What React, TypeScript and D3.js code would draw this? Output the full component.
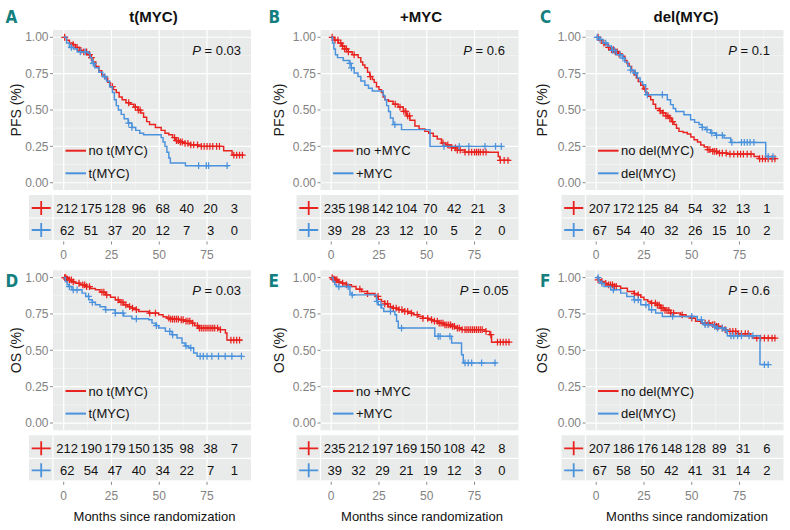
import React from "react";
import * as d3 from "d3";

type Step = [number, number];

// ---------- DATA ----------
const panelLetters = ["A", "B", "C", "D", "E", "F"];
const panelTitles = ["t(MYC)", "+MYC", "del(MYC)"];
const yTitles = ["PFS (%)", "OS (%)"];
const groupLabels = [
  ["no t(MYC)", "t(MYC)"],
  ["no +MYC", "+MYC"],
  ["no del(MYC)", "del(MYC)"],
];
const pValues = ["0.03", "0.6", "0.1", "0.03", "0.05", "0.6"];
const xTicks = [0, 25, 50, 75];
const yTicks = [0, 0.25, 0.5, 0.75, 1];
const yTickLabels = ["0.00", "0.25", "0.50", "0.75", "1.00"];
const tableTimes = [0, 12.5, 25, 37.5, 50, 62.5, 75, 87.5];
const xTitle = "Months since randomization";

// Panel A: PFS t(MYC)
const aNoSteps: Step[] = [[0,1],[1.5,0.98],[3,0.96],[4.6,0.95],[6.1,0.93],[8.2,0.91],[10.2,0.9],[12.2,0.88],[14.3,0.86],[15.3,0.83],[16.8,0.8],[18.4,0.77],[19.9,0.74],[21.4,0.72],[23,0.69],[24.5,0.66],[26,0.64],[27.5,0.62],[29,0.59],[30.6,0.57],[32.6,0.55],[34.7,0.54],[36.7,0.52],[38.8,0.5],[40.3,0.48],[41.8,0.45],[43.4,0.42],[44.9,0.4],[48,0.38],[51,0.36],[53,0.34],[55,0.33],[57,0.31],[58.6,0.29],[60.2,0.28],[63.2,0.27],[66.3,0.26],[70.6,0.25],[83.7,0.22],[88.1,0.19]];
const aNoEnd = 94.2;
const aNoCens = [0.5,5,7,9,10.5,12,13.5,14.5,25.5,34,37.5,39,40,58,59,60,61,62,63.5,65,66.5,68,70,72,73.5,75,76.5,78,80,81.5,89,90.5,92,93.5];
const aYesSteps: Step[] = [[0,1],[1.5,0.96],[3,0.93],[5.1,0.92],[7.1,0.9],[12.7,0.89],[13.8,0.86],[14.8,0.82],[16.3,0.79],[18.4,0.76],[20.4,0.73],[22.4,0.7],[24,0.66],[25.5,0.62],[26.5,0.57],[27.5,0.53],[28.6,0.5],[30.1,0.47],[31.6,0.44],[33.7,0.41],[35.7,0.38],[37.7,0.36],[39.8,0.34],[41.8,0.33],[51,0.31],[52,0.28],[53,0.25],[54,0.21],[55,0.17],[55.8,0.135],[63.7,0.117]];
const aYesEnd = 86.4;
const aYesCens = [4,8.7,11.3,15.5,21.5,34,35.7,70.6,74.6,75.8,85.5];
const aRiskNo = [212, 175, 128, 96, 68, 40, 20, 3];
const aRiskYes = [62, 51, 37, 20, 12, 7, 3, 0];

// Panel B: PFS +MYC
const bNoSteps: Step[] = [[0,1],[1.5,0.98],[3.7,0.96],[5.5,0.94],[7,0.92],[8.9,0.9],[11,0.88],[14.1,0.86],[15.5,0.83],[16.5,0.81],[17.6,0.79],[19,0.76],[20.2,0.73],[21.5,0.71],[22.5,0.69],[23.7,0.66],[25,0.64],[26.3,0.62],[27.2,0.59],[28.1,0.57],[30,0.56],[32.4,0.54],[35,0.52],[37.7,0.49],[39.5,0.46],[41.2,0.43],[43.8,0.39],[46,0.37],[49,0.353],[51,0.34],[53.4,0.32],[55.5,0.3],[57.7,0.273],[60,0.26],[63,0.24],[66,0.225],[69.9,0.21],[87.4,0.18],[88.3,0.154]];
const bNoEnd = 93.5;
const bNoCens = [0.5,2,3.5,5,6,7,8,9,12,20.5,33.5,36,38,39,40,41,58.5,61,63,65,66,67.5,70,72,73.5,75,76,77,78,79.5,81,88.5,90.5,92.5];
const bYesSteps: Step[] = [[0,1],[0.7,0.96],[1.4,0.92],[2.2,0.88],[3.3,0.86],[6.3,0.84],[9.5,0.82],[10.5,0.79],[12,0.755],[14,0.73],[15.5,0.7],[17.6,0.67],[19.5,0.65],[21.5,0.63],[27.2,0.6],[28.1,0.57],[29,0.53],[30,0.49],[31,0.445],[32.4,0.4],[36.8,0.365],[51.7,0.25]];
const bYesEnd = 89.1;
const bYesCens = [9.8,10.6,33.3,59,67,72,80.5,86,89];
const bRiskNo = [235, 198, 142, 104, 70, 42, 21, 3];
const bRiskYes = [39, 28, 23, 12, 10, 5, 2, 0];

// Panel C: PFS del(MYC)
const cNoSteps: Step[] = [[0,1],[1.5,0.98],[3,0.96],[4.1,0.95],[6,0.93],[7.5,0.915],[9.3,0.9],[11.5,0.885],[13.7,0.87],[15,0.84],[16.1,0.82],[17.2,0.8],[18.5,0.77],[19.8,0.74],[21,0.72],[22,0.695],[23.3,0.67],[24.6,0.645],[25.9,0.617],[27.2,0.595],[28.5,0.57],[29.8,0.54],[31.1,0.51],[33,0.495],[34.6,0.48],[36.3,0.46],[38.1,0.445],[39.4,0.42],[40.7,0.4],[42,0.375],[43.3,0.353],[45.5,0.345],[47.7,0.335],[49.5,0.315],[51.2,0.296],[53,0.28],[54.7,0.26],[56.5,0.245],[58.2,0.227],[61,0.215],[63.4,0.204],[68.6,0.197],[82.6,0.18],[85.2,0.165]];
const cNoEnd = 93.9;
const cNoCens = [1,4,6.5,8,9,10,11,12,25.5,33.5,35,36.5,37.5,38.5,40,58.5,59.5,61,62,63,64.5,66,68,70,72,74,75.5,77,79,81,85.5,87,88.5,90,92,93.5];
const cYesSteps: Step[] = [[0,1],[1.7,0.985],[3.5,0.96],[6,0.94],[8,0.91],[10.5,0.88],[13.7,0.857],[15,0.83],[16.5,0.8],[18,0.775],[19.5,0.755],[21.5,0.72],[23,0.695],[24.3,0.674],[25.9,0.605],[37.2,0.571],[38.9,0.537],[40.3,0.51],[41.6,0.49],[45.9,0.468],[49.4,0.433],[51.5,0.415],[53.8,0.4],[55.5,0.38],[57.3,0.365],[59.9,0.342],[62.5,0.326],[66.9,0.307],[70.4,0.277],[88.7,0.18]];
const cYesEnd = 93;
const cYesCens = [0.5,2,5,8.5,9.5,12.5,14,18,20.5,26.8,34.6,55.5,58,60.5,63,66,71,76,77.5,79,80.5,82.5,90,92.5];
const cRiskNo = [207, 172, 125, 84, 54, 32, 13, 1];
const cRiskYes = [67, 54, 40, 32, 26, 15, 10, 2];

// Panel D: OS t(MYC)
const dNoSteps: Step[] = [[0,1],[1.3,0.99],[2.6,0.984],[4.3,0.97],[6.1,0.961],[8.5,0.95],[11.3,0.938],[14,0.925],[16.6,0.916],[19,0.9],[21.8,0.881],[24.5,0.865],[27,0.847],[29,0.83],[31.4,0.813],[33.5,0.8],[35.7,0.79],[37.5,0.78],[39.2,0.767],[44.5,0.756],[49.7,0.744],[52,0.73],[54,0.721],[56,0.715],[60.2,0.71],[63,0.7],[67.1,0.687],[68.5,0.67],[70.6,0.653],[81.1,0.642],[84.6,0.619],[85.4,0.57]];
const dNoEnd = 93.3;
const dNoCens = [0.5,1,1.5,2,3,4,5,8,10,11,12,13.5,20,21,22.5,28.5,30,31,32.5,34.5,36,38,45,48,55,56,57,58,59,60,61.5,62.5,64,65,66,67.5,70,71,72,73,74,75,76,77,78,79,80.5,82,87.5,89,90.5,92];
const dYesSteps: Step[] = [[0,1],[0.9,0.973],[1.8,0.95],[2.8,0.938],[4.3,0.916],[9.6,0.893],[11.5,0.87],[13.1,0.847],[15,0.83],[16.6,0.813],[19,0.8],[21.8,0.779],[27,0.756],[31.4,0.735],[35.7,0.717],[44.5,0.71],[46.2,0.687],[48,0.67],[49.7,0.653],[53.2,0.63],[56.7,0.607],[59.3,0.584],[61.9,0.55],[63.5,0.53],[65.4,0.516],[68,0.482],[69.8,0.459]];
const dYesEnd = 93.3;
const dYesCens = [3,5,7,13,15,22,27,31,38,48.5,55.5,57,64,66.5,71.4,73,75,77.5,81,84.5,88,93];
const dRiskNo = [212, 190, 179, 150, 135, 98, 38, 7];
const dRiskYes = [62, 54, 47, 40, 34, 22, 7, 1];

// Panel E: OS +MYC
const eNoSteps: Step[] = [[0,1],[1,0.99],[1.9,0.984],[3.5,0.97],[5.4,0.961],[8,0.95],[10.6,0.938],[13,0.92],[15.9,0.904],[19,0.89],[22.9,0.87],[24.6,0.85],[26.3,0.836],[28,0.82],[29.8,0.8],[32,0.79],[35.1,0.779],[37.5,0.767],[40.3,0.756],[43,0.745],[45.5,0.733],[48,0.72],[50.8,0.71],[53.4,0.7],[56,0.687],[59,0.675],[63,0.664],[65,0.653],[68.2,0.642],[80.4,0.63],[83,0.607],[83.9,0.556]];
const eNoEnd = 93.5;
const eNoCens = [0.5,1,1.5,2,2.5,3,4,6,8,15,19,24.5,28,29.5,31,32.5,34,35.5,37,38.5,40,42,45,48,50.5,52.5,54,55.5,56.5,57.5,58.5,59.5,60.5,61.5,62.5,63.5,64.5,66,67,68.5,70,71,72,73,74,75,76,77,78,79,81,83.5,87,88.5,90,91.5,93];
const eYesSteps: Step[] = [[0,1],[1,0.973],[1.9,0.95],[2.8,0.938],[9.8,0.893],[10.6,0.881],[23.7,0.836],[24.6,0.813],[26.3,0.79],[27.5,0.767],[33.3,0.745],[34.2,0.7],[35.1,0.653],[54.2,0.596],[63,0.55],[68.2,0.47],[69.1,0.413]];
const eYesEnd = 86.5;
const eYesCens = [4,8.9,11,24,26,31,36.8,56,57,62.1,70,71.7,73.5,78.7,85.7];
const eRiskNo = [235, 212, 197, 169, 150, 108, 42, 8];
const eRiskYes = [39, 32, 29, 21, 19, 12, 3, 0];

// Panel F: OS del(MYC)
const fNoSteps: Step[] = [[0,1],[1,0.985],[2.3,0.973],[4,0.96],[5.8,0.95],[9,0.94],[12.8,0.927],[16.3,0.904],[19.8,0.89],[21.5,0.881],[23.3,0.865],[25,0.847],[27,0.835],[28.5,0.824],[31.1,0.81],[33.7,0.79],[36,0.775],[38.9,0.756],[44.2,0.744],[47,0.733],[49.4,0.721],[52,0.7],[54.7,0.687],[59.9,0.676],[62.5,0.664],[65.1,0.653],[67.5,0.642],[68.6,0.63],[73.9,0.614],[80.8,0.6],[81.7,0.584]];
const fNoEnd = 93.9;
const fNoCens = [1,3,5,6.5,7.5,8.5,9.5,10.5,20,22,29,31,32,33,34,35,36,37,38,39,40.5,45,50,57,59,61,62,63,64,66,67.5,70,71.5,73,74.5,76,78,79.5,84,86,88,90,92,93.5];
const fYesSteps: Step[] = [[0,1],[1.5,0.973],[2.3,0.96],[4.1,0.938],[7.6,0.916],[12.8,0.893],[16,0.87],[19.8,0.847],[23.3,0.813],[27.6,0.779],[31.1,0.756],[34.6,0.733],[52.9,0.71],[55.5,0.69],[56.4,0.676],[61,0.664],[62.5,0.653],[66.9,0.637],[68.6,0.6],[85.7,0.402]];
const fYesEnd = 90.4;
const fYesCens = [1,3,9,20,22,26,29,40,50,55,57,58.5,62,63.5,66,68,70.5,72,74,76,80,82,88,90];
const fRiskNo = [207, 186, 176, 148, 128, 89, 31, 6];
const fRiskYes = [67, 58, 50, 42, 41, 31, 14, 2];

// ---------- STYLE / LAYOUT ----------
const RED = "#e8231f";
const BLUE = "#4b92dc";
const PANEL_BG = "#e9ebeb";
const TEAL = "#137f7e";
const GRAY_TXT = "#828282";
const FONT = "'Liberation Sans', Arial, Helvetica, sans-serif";

const colLeft = [53, 320.5, 585.5];
const letterX = [5.5, 268.5, 540];
const yTitleX = [16, 279, 542];
const rowTop = [30, 270.3];
const letterY = [23, 287];
const plotW = 198;
const plotH = 160;
const tableGap = 5;
const tableH = 45;
const xDomain: [number, number] = [-5.6, 98.0];

type Series = { steps: Step[]; end: number; cens: number[]; color: string };

const panelSeries: Series[][] = [
  [
    { steps: aNoSteps, end: aNoEnd, cens: aNoCens, color: RED },
    { steps: aYesSteps, end: aYesEnd, cens: aYesCens, color: BLUE },
  ],
  [
    { steps: bNoSteps, end: bNoEnd, cens: bNoCens, color: RED },
    { steps: bYesSteps, end: bYesEnd, cens: bYesCens, color: BLUE },
  ],
  [
    { steps: cNoSteps, end: cNoEnd, cens: cNoCens, color: RED },
    { steps: cYesSteps, end: cYesEnd, cens: cYesCens, color: BLUE },
  ],
  [
    { steps: dNoSteps, end: dNoEnd, cens: dNoCens, color: RED },
    { steps: dYesSteps, end: dYesEnd, cens: dYesCens, color: BLUE },
  ],
  [
    { steps: eNoSteps, end: eNoEnd, cens: eNoCens, color: RED },
    { steps: eYesSteps, end: eYesEnd, cens: eYesCens, color: BLUE },
  ],
  [
    { steps: fNoSteps, end: fNoEnd, cens: fNoCens, color: RED },
    { steps: fYesSteps, end: fYesEnd, cens: fYesCens, color: BLUE },
  ],
];
const panelRisk = [
  [aRiskNo, aRiskYes],
  [bRiskNo, bRiskYes],
  [cRiskNo, cRiskYes],
  [dRiskNo, dRiskYes],
  [eRiskNo, eRiskYes],
  [fRiskNo, fRiskYes],
];

function survAt(steps: Step[], t: number) {
  let s = 1;
  for (const [st, sv] of steps) {
    if (st <= t) s = sv;
    else break;
  }
  return s;
}

function Panel({ idx }: { idx: number }) {
  const col = idx % 3;
  const row = Math.floor(idx / 3);
  const L = colLeft[col];
  const R = L + plotW;
  const top = rowTop[row];
  const bottom = top + plotH;
  const x = d3.scaleLinear().domain(xDomain).range([L, R]);
  const y = d3.scaleLinear().domain([-0.05, 1.05]).range([bottom, top]);
  const line = d3
    .line<Step>()
    .x((d) => x(d[0]))
    .y((d) => y(d[1]))
    .curve(d3.curveStepAfter);
  const series = panelSeries[idx];
  const risk = panelRisk[idx];
  const tTop = bottom + tableGap;
  const tBot = tTop + tableH;
  const tLeft = L - 24;
  const rowY = [tTop + 13, tTop + 35];
  const minorX = [12.5, 37.5, 62.5, 87.5];
  const minorY = [0.125, 0.375, 0.625, 0.875];

  return (
    <g>
      <text
        x={letterX[col]}
        y={letterY[row]}
        fontFamily="'Liberation Sans Narrow', 'DejaVu Sans Condensed', sans-serif"
        fontWeight="bold"
        fontSize={17}
        fill={TEAL}
      >
        {panelLetters[idx]}
      </text>
      {row === 0 && (
        <text
          x={(L + R) / 2 + 1.5}
          y={22}
          textAnchor="middle"
          fontFamily={FONT}
          fontWeight="bold"
          fontSize={15}
          fill="#111"
        >
          {panelTitles[col]}
        </text>
      )}
      <rect x={L} y={top} width={plotW} height={plotH} fill={PANEL_BG} />
      {minorY.map((v) => (
        <line key={"my" + v} x1={L} x2={R} y1={y(v)} y2={y(v)} stroke="#f6f7f7" strokeWidth={0.6} />
      ))}
      {minorX.map((v) => (
        <line key={"mx" + v} x1={x(v)} x2={x(v)} y1={top} y2={bottom} stroke="#f6f7f7" strokeWidth={0.6} />
      ))}
      {yTicks.map((v) => (
        <line key={"gy" + v} x1={L} x2={R} y1={y(v)} y2={y(v)} stroke="#fff" strokeWidth={1.2} />
      ))}
      {xTicks.map((v) => (
        <line key={"gx" + v} x1={x(v)} x2={x(v)} y1={top} y2={bottom} stroke="#fff" strokeWidth={1.2} />
      ))}
      {yTicks.map((v, i) => (
        <g key={"yt" + v}>
          <line x1={L - 3} x2={L} y1={y(v)} y2={y(v)} stroke="#8a8a8a" strokeWidth={1} />
          <text
            x={L - 4.5}
            y={y(v)}
            dy="0.35em"
            textAnchor="end"
            fontFamily={FONT}
            fontSize={12}
            fill={GRAY_TXT}
          >
            {yTickLabels[i]}
          </text>
        </g>
      ))}
      <text
        transform={`translate(${yTitleX[col]},${(top + bottom) / 2}) rotate(-90)`}
        textAnchor="middle"
        dy="0.35em"
        fontFamily={FONT}
        fontSize={14}
        fill="#1a1a1a"
      >
        {yTitles[row]}
      </text>
      {series.map((s, si) => {
        const pts: Step[] = [...s.steps, [s.end, s.steps[s.steps.length - 1][1]]];
        return (
          <g key={"s" + si}>
            <path d={line(pts) || ""} fill="none" stroke={s.color} strokeWidth={1.45} />
            {s.cens.map((t, ci) => {
              const cx = x(t);
              const cy = y(survAt(s.steps, t));
              return (
                <path
                  key={ci}
                  d={`M${cx - 3.4},${cy}H${cx + 3.4}M${cx},${cy - 3.4}V${cy + 3.4}`}
                  stroke={s.color}
                  strokeWidth={1.25}
                  fill="none"
                />
              );
            })}
          </g>
        );
      })}
      {series.map((s, si) => {
        const ly = top + 120.7 + si * 22.6;
        return (
          <g key={"lg" + si}>
            <line x1={L + 12.5} x2={L + 33} y1={ly} y2={ly} stroke={s.color} strokeWidth={2} />
            <text x={L + 35.5} y={ly} dy="0.36em" fontFamily={FONT} fontSize={13} fill="#111">
              {groupLabels[col][si]}
            </text>
          </g>
        );
      })}
      <text x={x(80)} y={top + 24.5} textAnchor="middle" fontFamily={FONT} fontSize={13} fill="#111">
        <tspan fontStyle="italic">P</tspan>
        {" = " + pValues[idx]}
      </text>
      <rect x={tLeft} y={tTop} width={R - tLeft} height={tableH} fill={PANEL_BG} />
      <line x1={tLeft} x2={R} y1={tTop + 23} y2={tTop + 23} stroke="#fff" strokeWidth={1.2} />
      {[L, x(25), x(50), x(75)].map((v, i) => (
        <line key={"tv" + i} x1={v} x2={v} y1={tTop} y2={tBot} stroke="#fff" strokeWidth={1.2} />
      ))}
      {series.map((s, si) => (
        <g key={"tr" + si}>
          <path
            d={`M${L - 21.3},${rowY[si]}H${L - 2.3}M${L - 11.8},${rowY[si] - 7}V${rowY[si] + 7}`}
            stroke={s.color}
            strokeWidth={1.8}
            fill="none"
          />
          {risk[si].map((n, ni) => (
            <text
              key={ni}
              x={x(tableTimes[ni]) + 3.5}
              y={rowY[si]}
              dy="0.36em"
              textAnchor="middle"
              fontFamily={FONT}
              fontSize={13}
              fill="#111"
            >
              {n}
            </text>
          ))}
        </g>
      ))}
      {xTicks.map((v) => (
        <g key={"xt" + v}>
          <line x1={x(v)} x2={x(v)} y1={tBot + 1.5} y2={tBot + 4.5} stroke="#8a8a8a" strokeWidth={1} />
          <text x={x(v)} y={tBot + 19.3} textAnchor="middle" fontFamily={FONT} fontSize={12} fill={GRAY_TXT}>
            {v}
          </text>
        </g>
      ))}
      {row === 1 && (
        <text x={L + 101.5} y={520.5} textAnchor="middle" fontFamily={FONT} fontSize={13} fill="#111">
          {xTitle}
        </text>
      )}
    </g>
  );
}

export default function App() {
  return (
    <svg
      width={790}
      height={530}
      viewBox="0 0 790 530"
      style={{ position: "absolute", left: 0, top: 0, background: "#fff" }}
    >
      <rect x={0} y={0} width={790} height={530} fill="#fff" />
      {[0, 1, 2, 3, 4, 5].map((i) => (
        <Panel key={i} idx={i} />
      ))}
    </svg>
  );
}
